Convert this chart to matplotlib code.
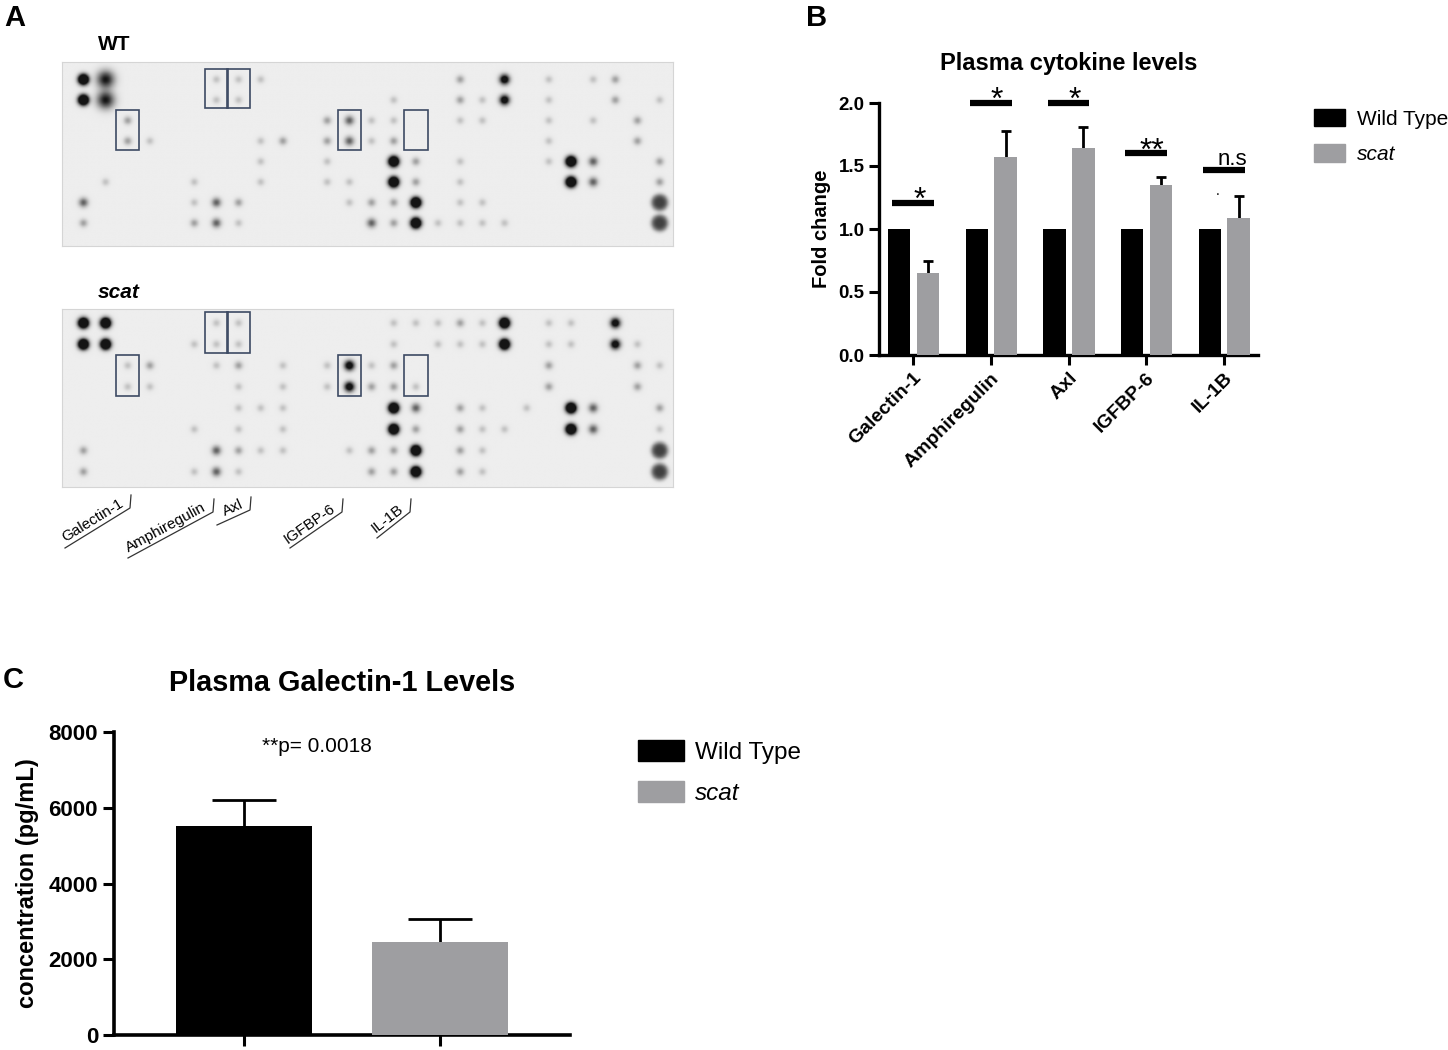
import numpy as np
import matplotlib
matplotlib.use('Agg')
import matplotlib.pyplot as plt
from matplotlib import font_manager
from matplotlib.patches import Rectangle, Patch

# ---------------- data ----------------
cytokines = ['Galectin-1', 'Amphiregulin', 'Axl', 'IGFBP-6', 'IL-1B']
wt_fold = [1.0, 1.0, 1.0, 1.0, 1.0]
scat_fold = [0.65, 1.57, 1.64, 1.35, 1.09]
scat_fold_err = [0.10, 0.21, 0.17, 0.06, 0.17]
sig_labels = ['*', '*', '*', '**', 'n.s']
sig_heights = [1.21, 2.0, 2.0, 1.60, 1.465]

groups = ['Wild Type', 'scat']
galectin_conc = [5530, 2450]
galectin_err = [670, 610]
p_text = '**p= 0.0018'

# dot blot arrays: 8 rows x 27 columns, '.' = no spot, 1..5 = faint..dark,
# 'B' = large dark spot, 'G' = large grey spot
wt_grid = [
    "5B....111........2.4.1.12..",
    "5B....11......1..214.1..2.1",
    "..2........2311..11..1.1.2.",
    "..21....12.2312......1...2.",
    "........1..1..52.1...153..2",
    ".1...1..1..11.52.1....53..2",
    "3....132....1225.11.......G",
    "2....231.....3251111......G",
]
scat_grid = [
    "55....11......111215.11.4..",
    "55...111......1.1115.11.41.",
    "..12..12.1.1412......2...21",
    "..11...1.1.14221.....2...2.",
    ".......111....53.21.1.53..2",
    ".....1.1.1....52.211..53..1",
    "2.....3211..1225.21.......G",
    "2....131.....225.21.......G",
]
box_spots = [(2, 2), (6, 0), (7, 0), (12, 2), (15, 2)]   # (column, first row)
blot_labels = ['Galectin-1', 'Amphiregulin', 'Axl', 'IGFBP-6', 'IL-1B']

# ---------------- style ----------------
names = {f.name for f in font_manager.fontManager.ttflist}
narrow = 'Liberation Sans Narrow' if 'Liberation Sans Narrow' in names else 'Liberation Sans'
plt.rcParams['font.family'] = ['Liberation Sans', 'DejaVu Sans']

W, H = 1448, 1050
fig = plt.figure(figsize=(W / 100, H / 100), dpi=100)
grey = '#9e9ea1'


def px_axes(l, t, r, b, **kw):
    return fig.add_axes([l / W, 1 - b / H, (r - l) / W, (b - t) / H], **kw)


def up_errors(ax, xs, vals, errs, cap_half, lw=2):
    # only the upper half of the SEM bar, as in the Prism original
    tops = np.asarray(vals) + np.asarray(errs)
    ax.vlines(xs, vals, tops, color='black', lw=lw, zorder=2)
    ax.hlines(tops, np.asarray(xs) - cap_half, np.asarray(xs) + cap_half,
              color='black', lw=lw, zorder=2)


# overlay in pixel coordinates for panel letters and blot labels
ov = px_axes(0, 0, W, H, zorder=5)
ov.set_xlim(0, W)
ov.set_ylim(H, 0)
ov.axis('off')

# ---------------- panel A ----------------
spot_style = {'1': (0.17, 2.6, 1), '2': (0.30, 2.8, 1), '3': (0.55, 3.2, 1),
              '4': (1.2, 3.4, 1), '5': (2.2, 3.4, 1), 'B': (0.85, 6.0, 1),
              'G': (0.68, 6.0, 2)}


def draw_blot(box, grid, ylims, row_px):
    l, t, r, b = box
    ax = px_axes(l, t, r, b)
    x0, x1 = -0.95, 26.58
    xs = np.linspace(x0, x1, 700)
    ys = np.linspace(ylims[1], ylims[0], 220)
    X, Y = np.meshgrid(xs, ys)
    Z = np.zeros_like(X)
    for ri, row in enumerate(grid):
        for ci, ch in enumerate(row):
            if ch in spot_style:
                amp, sig, p = spot_style[ch]
                d2 = ((X - ci) * 22.2) ** 2 + ((Y - ri) * row_px) ** 2
                Z += amp * np.exp(-(d2 / (2 * sig ** 2)) ** p)
    Z = 0.07 + np.clip(Z, 0, 0.85)
    ax.imshow(Z, cmap='gray_r', vmin=0, vmax=1, extent=(x0, x1, ylims[0], ylims[1]),
              aspect='auto', interpolation='bilinear')
    for c, rr in box_spots:
        ax.add_patch(Rectangle((c - 0.52, rr - 0.48), 1.04, 1.9, fill=False,
                               ec='#3d4a63', lw=1.2))
    ax.set_xlim(x0, x1)
    ax.set_ylim(ylims)
    ax.set_xticks([])
    ax.set_yticks([])
    for s in ax.spines.values():
        s.set_color('#d5d5d5')
        s.set_linewidth(0.8)
    return ax


draw_blot((62, 62, 673, 246), wt_grid, (8.1, -0.83), 20.6)
draw_blot((62, 309, 673, 487), scat_grid, (7.7, -0.64), 21.3)

ov.text(4, 18, 'A', fontsize=21, fontweight='bold', family=narrow, va='center')
ov.text(98, 44, 'WT', fontsize=15, fontweight='bold', family=narrow, va='center')
ov.text(98, 293, 'scat', fontsize=15, fontweight='bold', style='italic', family=narrow, va='center')

label_lines = [((65, 548), (130, 508)), ((128, 558), (213, 512)), ((217, 525), (250, 510)),
               ((290, 548), (342, 512)), ((377, 538), (410, 512))]
for name, (p0, p1) in zip(blot_labels, label_lines):
    ov.plot([p0[0], p1[0], p1[0] + 1], [p0[1], p1[1], p1[1] - 13], color='#333333', lw=0.9)
    dx, dy = p1[0] - p0[0], p1[1] - p0[1]
    ln = np.hypot(dx, dy)
    d = np.array([dx, dy]) / ln
    n = np.array([d[1], -d[0]])
    ang = np.degrees(np.arctan2(-dy, dx))
    anc = np.array(p1) - 4 * d + 2 * n
    ov.text(anc[0], anc[1], name, rotation=ang, rotation_mode='anchor', ha='right',
            va='bottom', fontsize=11, family=narrow, fontweight='medium', color='black')

# ---------------- panel B ----------------
axB = px_axes(879, 103, 1258, 355)
x = np.arange(len(cytokines))
axB.bar(x - 0.18, wt_fold, 0.29, color='black', zorder=3)
axB.bar(x + 0.19, scat_fold, 0.29, color=grey, zorder=3)
up_errors(axB, x + 0.19, scat_fold, scat_fold_err, 0.065)
for i, (lab, h) in enumerate(zip(sig_labels, sig_heights)):
    axB.plot([i - 0.27, i + 0.27], [h, h], color='black', lw=4.5, solid_capstyle='butt',
             clip_on=False, zorder=4)
    if lab == 'n.s':
        axB.text(i + 0.11, h + 0.045, lab, ha='center', va='baseline', fontsize=16,
                 clip_on=False)
    else:
        axB.text(i + 0.08, h - 0.05, lab, ha='center', va='baseline', fontsize=23,
                 clip_on=False)
axB.text(4 - 0.08, 1.27, '.', ha='center', va='baseline', fontsize=10)
axB.set_xlim(-0.44, 4.44)
axB.set_ylim(0, 2.0)
axB.set_yticks([0, 0.5, 1.0, 1.5, 2.0])
axB.set_yticklabels(['0.0', '0.5', '1.0', '1.5', '2.0'], fontsize=13.5, fontweight='bold')
axB.set_xticks(x)
axB.set_xticklabels(cytokines, rotation=45, ha='right', rotation_mode='anchor',
                    fontsize=14, fontweight='bold')
axB.tick_params(width=2.2, length=7)
axB.set_ylabel('Fold change', fontsize=14.5, fontweight='bold', labelpad=5)
for s in ['top', 'right']:
    axB.spines[s].set_visible(False)
for s in ['left', 'bottom']:
    axB.spines[s].set_linewidth(2.4)
axB.set_title('Plasma cytokine levels', fontsize=17, fontweight='bold', pad=24)
ov.text(806, 18, 'B', fontsize=21, fontweight='bold', family=narrow, va='center')

hB = [Patch(color='black'), Patch(color=grey)]
legB = fig.legend(hB, groups, loc='upper left', bbox_to_anchor=(1314 / W, 1 - 109 / H),
                  frameon=False, fontsize=15, handlelength=1.5, handleheight=0.9,
                  labelspacing=0.75, handletextpad=0.55, borderpad=0, borderaxespad=0)
legB.get_texts()[1].set_style('italic')

# ---------------- panel C ----------------
axC = px_axes(114, 732, 570, 1035)
xc = np.arange(len(groups))
axC.bar(xc, galectin_conc, 0.69, color=['black', grey], zorder=3)
up_errors(axC, xc, galectin_conc, galectin_err, 0.165)
axC.set_xlim(-0.663, 1.663)
axC.set_ylim(0, 8000)
axC.set_yticks([0, 2000, 4000, 6000, 8000])
axC.set_yticklabels(['0', '2000', '4000', '6000', '8000'], fontsize=16, fontweight='bold')
axC.set_xticks(xc)
axC.set_xticklabels(['', ''])
axC.tick_params(width=2.2, length=8)
axC.set_ylabel('concentration (pg/mL)', fontsize=17, fontweight='bold', labelpad=7)
for s in ['top', 'right']:
    axC.spines[s].set_visible(False)
for s in ['left', 'bottom']:
    axC.spines[s].set_linewidth(2.6)
ov.text(342, 683, 'Plasma Galectin-1 Levels', fontsize=20.8, fontweight='bold',
        ha='center', va='center')
ov.text(317, 747, p_text, fontsize=15, ha='center', va='center')
ov.text(3, 680, 'C', fontsize=21, fontweight='bold', family=narrow, va='center')

hC = [Patch(color='black'), Patch(color=grey)]
legC = fig.legend(hC, groups, loc='upper left', bbox_to_anchor=(638 / W, 1 - 740 / H),
                  frameon=False, fontsize=17.5, handlelength=1.9, handleheight=0.95,
                  labelspacing=0.7, handletextpad=0.45, borderpad=0, borderaxespad=0)
legC.get_texts()[1].set_style('italic')

fig.savefig('out.png', dpi=100)
